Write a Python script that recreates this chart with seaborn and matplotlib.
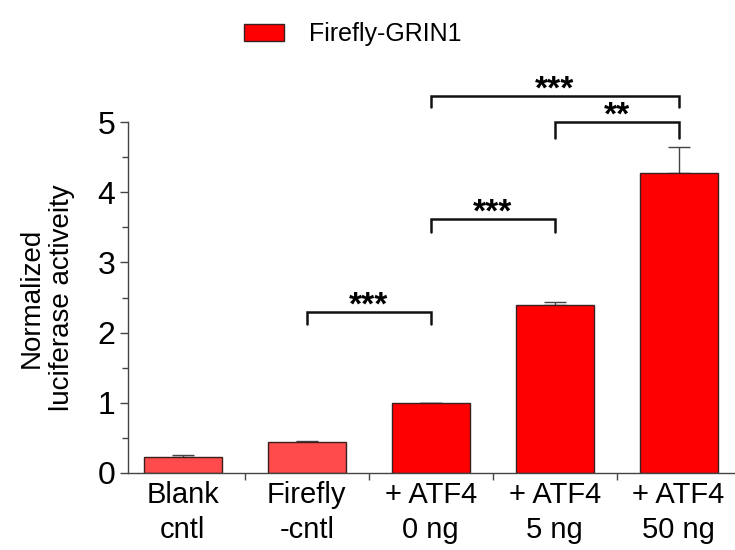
import matplotlib
matplotlib.use("Agg")
import matplotlib.pyplot as plt
from matplotlib.patches import Patch
from matplotlib.ticker import MultipleLocator
import seaborn as sns

categories = ["Blank\ncntl", "Firefly\n-cntl", "+ ATF4\n0 ng", "+ ATF4\n5 ng", "+ ATF4\n50 ng"]
values = [0.23, 0.44, 1.00, 2.40, 4.27]
errors = [0.02, 0.02, 0.00, 0.03, 0.37]
bar_colors = ["#ff4b4b", "#ff4b4b", "#ff0000", "#ff0000", "#ff0000"]
legend_label = "Firefly-GRIN1"
ylabel = "Normalized\nluciferase activeity"
# significance brackets: (left index, right index, height, drop, label)
brackets = [(1, 2, 2.29, 0.16, "***"),
            (2, 3, 3.62, 0.18, "***"),
            (3, 4, 5.00, 0.23, "**"),
            (2, 4, 5.37, 0.16, "***")]

sns.set_theme(style="ticks")
plt.rcParams["font.family"] = ["Liberation Sans", "DejaVu Sans"]
plt.rcParams["text.color"] = "black"
plt.rcParams["axes.labelcolor"] = "black"
plt.rcParams["xtick.labelcolor"] = "black"
plt.rcParams["ytick.labelcolor"] = "black"

fig = plt.figure(figsize=(7.35, 5.5), dpi=100)
ax = fig.add_axes([0.174, 0.14, 1 - 0.174, 0.638])

sns.barplot(x=categories, y=values, hue=categories, palette=bar_colors, legend=False,
            width=0.63, saturation=1, edgecolor="#3a2020", linewidth=1.0, ax=ax, zorder=2)
ax.errorbar(range(len(values)), values, yerr=[[0] * len(errors), errors], fmt="none",
            ecolor="#444444", elinewidth=1.0, capsize=8, capthick=1.0, zorder=1)

ax.set_xlim(-0.444, 4.455)
ax.set_ylim(0, 5)
ax.yaxis.set_major_locator(MultipleLocator(1))
ax.yaxis.set_minor_locator(MultipleLocator(0.5))
ax.set_xticks(range(len(categories)))
ax.set_xticklabels(categories, fontsize=21, linespacing=1.3)
ax.set_xticks([0.5, 1.5, 2.5, 3.5], minor=True)
ax.tick_params(axis="x", which="major", length=0, pad=6)
ax.tick_params(axis="x", which="minor", length=5, width=1, color="#444444", direction="out")
ax.tick_params(axis="y", which="major", length=6, width=1, color="#444444", labelsize=23, pad=3)
ax.tick_params(axis="y", which="minor", length=4, width=1, color="#444444")
ax.set_ylabel(ylabel, fontsize=20, linespacing=1.25, labelpad=16)
ax.set_xlabel("")
for s in ["top", "right"]:
    ax.spines[s].set_visible(False)
for s in ["left", "bottom"]:
    ax.spines[s].set_color("#444444")
    ax.spines[s].set_linewidth(1.0)

for i, j, h, d, lab in brackets:
    ax.plot([i, i, j, j], [h - d, h, h, h - d], color="#111111", lw=1.8,
            clip_on=False, solid_joinstyle="miter")
    ax.annotate(lab, xy=((i + j) / 2, h), xytext=(0, -7), textcoords="offset points",
                ha="center", va="bottom", fontsize=24, fontweight="bold",
                annotation_clip=False)

fig.legend(handles=[Patch(facecolor="#ff0000", edgecolor="#3a2020", linewidth=1.0)],
           labels=[legend_label], loc="upper center", bbox_to_anchor=(0.48, 1.0),
           frameon=False, fontsize=18, handlelength=1.6, handleheight=0.65,
           handletextpad=1.0)

fig.savefig("out.png", dpi=100)
